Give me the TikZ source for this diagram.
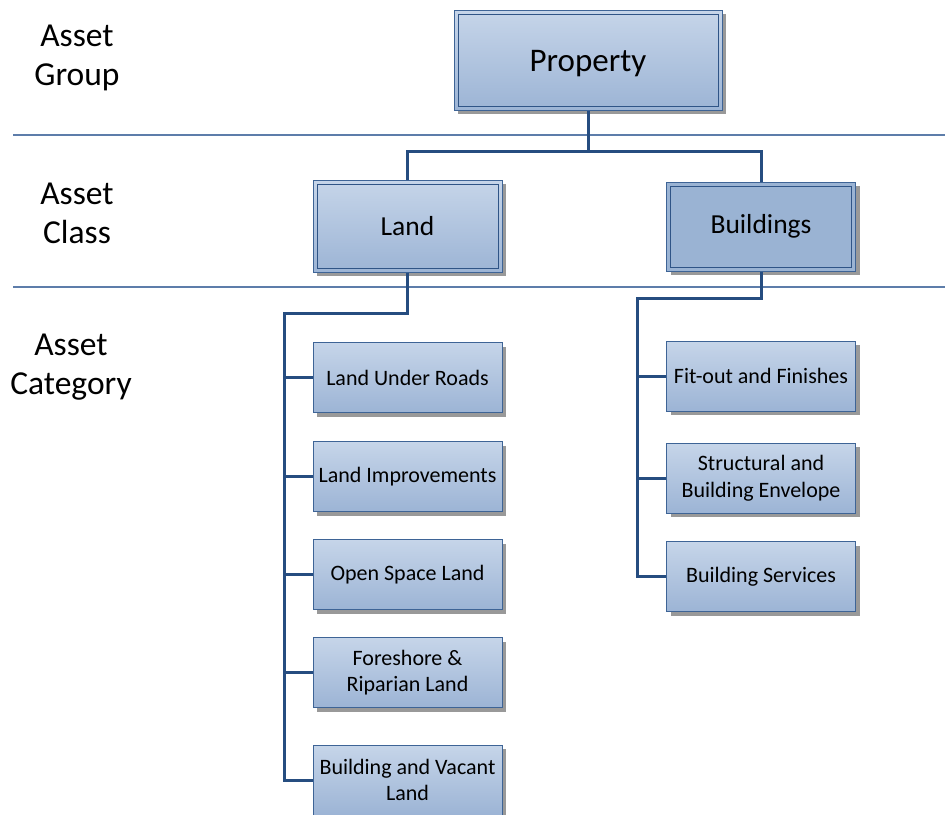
\documentclass[tikz,border=0pt]{standalone}
\usepackage{fontspec}
\setmainfont{Carlito}
\usetikzlibrary{shadows}
\definecolor{boxtop}{HTML}{C6D5E9}
\definecolor{boxbot}{HTML}{9CB4D5}
\definecolor{boxflat}{HTML}{9AB3D3}
\definecolor{edge}{HTML}{3E6496}
\definecolor{inner}{HTML}{2F5486}
\definecolor{wire}{HTML}{264D80}
\definecolor{rule}{HTML}{5D7DAA}
\tikzset{
  boxbase/.style={draw=edge, line width=1pt, top color=boxtop, bottom color=boxbot,
    drop shadow={shadow xshift=4pt, shadow yshift=-4pt, fill=black!40, opacity=1},
    align=center, inner sep=2pt},
  bigbox/.style={boxbase, minimum width=268pt, minimum height=100pt, text height=26pt, text depth=4pt, font=\fontsize{33}{38}\selectfont},
  classbox/.style={boxbase, minimum width=189pt, minimum height=92pt, font=\fontsize{27.5}{32}\selectfont},
  catbox/.style={boxbase, minimum width=189pt, minimum height=70pt, font=\fontsize{22}{26.5}\selectfont},
  wirestyle/.style={draw=wire, line width=3pt},
  rulestyle/.style={draw=rule, line width=1.2pt},
  lvl/.style={align=center, font=\fontsize{33.5}{39}\selectfont, inner sep=0pt}
}
\newcommand{\innerframe}[1]{%
  \draw[inner, line width=1pt] ([shift={(4.5pt,-4.5pt)}]#1.north west) rectangle ([shift={(-4.5pt,4.5pt)}]#1.south east);}
\begin{document}
\begin{tikzpicture}[x=1pt, y=-1pt]
\useasboundingbox (0,0) rectangle (945,814);

% level separators
\draw[rulestyle] (13,135) -- (945,135);
\draw[rulestyle] (13,287) -- (945,287);

% level labels
\node[lvl] (lg) at (77,58) {Asset\\Group};
\node[lvl] (lc) at (77,213) {Asset\\Class};
\node[lvl] (lk) at (71,367) {Asset\\Category};

% group and class boxes
\node[bigbox] (prop) at (588,60) {Property};
\innerframe{prop}
\node[classbox] (land) at (407.5,226) {Land};
\innerframe{land}
\node[classbox, minimum height=89pt, shading=axis, top color=boxflat, bottom color=boxflat] (bld) at (761,226.5) {Buildings};
\innerframe{bld}

% land categories
\node[catbox] (lur) at (407.5,377.5) {Land Under Roads};
\node[catbox] (limp) at (407.5,476.5) {Land Improvements};
\node[catbox] (osl) at (407.5,574.5) {Open Space Land};
\node[catbox] (frl) at (407.5,672.5) {Foreshore \&\\Riparian Land};
\node[catbox] (bvl) at (407.5,780) {Building and Vacant\\Land};

% building categories
\node[catbox] (fit) at (761,376) {Fit-out and Finishes};
\node[catbox] (sbe) at (761,478) {Structural and\\Building Envelope};
\node[catbox] (bsv) at (761,576.5) {Building Services};

% connectors
\coordinate (gbus) at (588,151);
\coordinate (lbus) at (284,313);
\coordinate (bbus) at (637,298);
\draw[wirestyle] (prop.south) -- (gbus);
\draw[wirestyle] (gbus) -| (land.north);
\draw[wirestyle] (gbus) -| (bld.north);

\draw[wirestyle] (land.south) |- (lbus) -- (lbus |- bvl.west) -- (bvl.west);
\draw[wirestyle] (lbus |- lur.west) -- (lur.west);
\draw[wirestyle] (lbus |- limp.west) -- (limp.west);
\draw[wirestyle] (lbus |- osl.west) -- (osl.west);
\draw[wirestyle] (lbus |- frl.west) -- (frl.west);

\draw[wirestyle] (bld.south) |- (bbus) -- (bbus |- bsv.west) -- (bsv.west);
\draw[wirestyle] (bbus |- fit.west) -- (fit.west);
\draw[wirestyle] (bbus |- sbe.west) -- (sbe.west);
\end{tikzpicture}
\end{document}
